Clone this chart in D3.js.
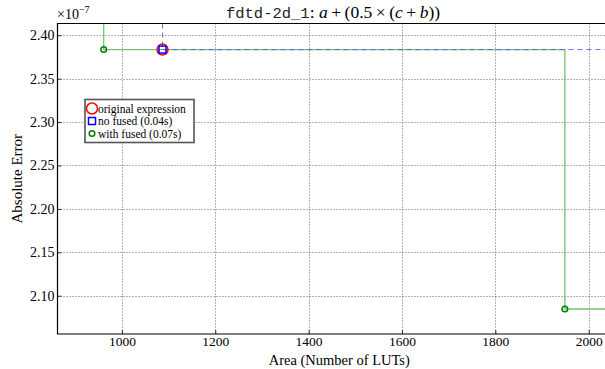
<!DOCTYPE html>
<html>
<head>
<meta charset="utf-8">
<script src="https://cdn.jsdelivr.net/npm/d3@7"></script>
<style>
  body { margin: 0; background: #fff; }
  svg { display: block; }
  text { font-family: "Liberation Serif", "DejaVu Serif", serif; fill: #000; }
</style>
</head>
<body>
<div id="chart"></div>
<script>
// data (y values in units of 1e-7)
var xTicks = [1000, 1200, 1400, 1600, 1800, 2000];
var yTicks = [2.10, 2.15, 2.20, 2.25, 2.30, 2.35, 2.40];

var originalPoint = [{x: 1087, y: 2.3835}];
var noFusedPoints = [{x: 1087, y: 2.3835}];
var withFusedPoints = [{x: 961, y: 2.3835}, {x: 1949, y: 2.0847}];

var legendItems = [
  {label: "original expression", kind: "orig"},
  {label: "no fused (0.04s)", kind: "nofused"},
  {label: "with fused (0.07s)", kind: "fused"}
];

var W = 605, H = 369;
var margin = {left: 57.5, right: 0, top: 23.5, bottom: 35};

var svg = d3.select("#chart").append("svg")
  .attr("width", W).attr("height", H);

var x = d3.scaleLinear().domain([862, 2035]).range([margin.left, W - margin.right]);
var y = d3.scaleLinear().domain([2.0559, 2.4135]).range([H - margin.bottom, margin.top]);

var x0 = x.range()[0], x1 = x.range()[1];
var yTop = y.range()[1], yBot = y.range()[0];

// grid
var grid = svg.append("g");
grid.selectAll("line.vx").data(xTicks).enter().append("line")
  .attr("x1", function(d){ return Math.round(x(d)) + 0.5; })
  .attr("x2", function(d){ return Math.round(x(d)) + 0.5; })
  .attr("y1", yTop).attr("y2", yBot)
  .attr("stroke", "#000").attr("stroke-width", 0.7)
  .attr("stroke-dasharray", "1,2").attr("opacity", 0.85);
grid.selectAll("line.hy").data(yTicks).enter().append("line")
  .attr("y1", function(d){ return Math.round(y(d)) + 0.5; })
  .attr("y2", function(d){ return Math.round(y(d)) + 0.5; })
  .attr("x1", x0).attr("x2", x1)
  .attr("stroke", "#000").attr("stroke-width", 0.7)
  .attr("stroke-dasharray", "1,2").attr("opacity", 0.85);

// step lines (pareto fronts)
function stepPath(pts) {
  var p = d3.path();
  p.moveTo(x(pts[0].x), yTop);
  pts.forEach(function(d, i) {
    p.lineTo(x(d.x), y(d.y));
    var nx = i < pts.length - 1 ? x(pts[i + 1].x) : x1 + 5;
    p.lineTo(nx, y(d.y));
  });
  return p.toString();
}

svg.append("path").attr("d", stepPath(withFusedPoints))
  .attr("fill", "none").attr("stroke", "#5cb85c").attr("stroke-width", 1.3).attr("opacity", 0.85);
svg.append("path").attr("d", stepPath(noFusedPoints))
  .attr("fill", "none").attr("stroke", "#5555ee").attr("stroke-width", 1)
  .attr("stroke-dasharray", "5,4").attr("opacity", 0.85);

// markers
svg.selectAll("circle.orig").data(originalPoint).enter().append("circle")
  .attr("cx", function(d){ return x(d.x); }).attr("cy", function(d){ return y(d.y); })
  .attr("r", 5.5).attr("fill", "none").attr("stroke", "#ff0000").attr("stroke-width", 1.5);
svg.selectAll("rect.nf").data(noFusedPoints).enter().append("rect")
  .attr("x", function(d){ return x(d.x) - 3.5; }).attr("y", function(d){ return y(d.y) - 3.5; })
  .attr("width", 7).attr("height", 7)
  .attr("fill", "none").attr("stroke", "#0000ff").attr("stroke-width", 1.5);
svg.selectAll("circle.wf").data(withFusedPoints).enter().append("circle")
  .attr("cx", function(d){ return x(d.x); }).attr("cy", function(d){ return y(d.y); })
  .attr("r", 2.8).attr("fill", "none").attr("stroke", "#007f00").attr("stroke-width", 1.5);

// frame (left, top, bottom)
svg.append("path")
  .attr("d", "M" + (W + 2) + "," + yTop + "H" + x0 + "V" + yBot + "H" + (W + 2))
  .attr("fill", "none").attr("stroke", "#000").attr("stroke-width", 1.2);

// x axis
var xAxis = svg.append("g").attr("transform", "translate(0," + yBot + ")")
  .call(d3.axisBottom(x).tickValues(xTicks).tickSize(-4).tickPadding(2.5).tickFormat(d3.format("d")));
xAxis.select(".domain").remove();
xAxis.selectAll("text").style("font-family", "Liberation Serif").style("font-size", "13.5px");
xAxis.selectAll("line").attr("stroke-width", 0.8);

// y axis
var yAxis = svg.append("g").attr("transform", "translate(" + x0 + ",0)")
  .call(d3.axisLeft(y).tickValues(yTicks).tickSize(-4).tickPadding(3).tickFormat(d3.format(".2f")));
yAxis.select(".domain").remove();
yAxis.selectAll("text").style("font-family", "Liberation Serif").style("font-size", "14px");
yAxis.selectAll("line").attr("stroke-width", 0.8);

// offset text
var off = svg.append("text").attr("x", 57).attr("y", 19).style("font-size", "14px");
off.append("tspan").text("\u00d710");
off.append("tspan").attr("dy", -6).style("font-size", "10px").text("\u22127");

// axis labels
svg.append("text").attr("x", (x0 + x1) / 2 + 8).attr("y", 365)
  .attr("text-anchor", "middle").style("font-size", "14.5px")
  .text("Area (Number of LUTs)");
svg.append("text").attr("transform", "translate(22," + ((yTop + yBot) / 2) + ") rotate(-90)")
  .attr("text-anchor", "middle").style("font-size", "15px")
  .text("Absolute Error");

// title
var title = svg.append("text").attr("x", 333).attr("y", 18)
  .attr("text-anchor", "middle").style("font-size", "17.5px");
title.append("tspan").style("font-family", "Liberation Mono").style("font-size", "15.5px").attr("fill", "#222").text("fdtd-2d_1");
title.append("tspan").text(": ");
title.append("tspan").style("font-style", "italic").text("a");
title.append("tspan").text("\u2009+\u2009(0.5\u2009\u00d7\u2009(");
title.append("tspan").style("font-style", "italic").text("c");
title.append("tspan").text("\u2009+\u2009");
title.append("tspan").style("font-style", "italic").text("b");
title.append("tspan").text("))");

// legend
var lg = svg.append("g").attr("transform", "translate(85,99.5)");
lg.append("rect").attr("x", 0).attr("y", 0).attr("width", 109).attr("height", 43)
  .attr("fill", "#fff").attr("stroke", "#555").attr("stroke-width", 1.6);
var row = lg.selectAll("g.row").data(legendItems).enter().append("g")
  .attr("transform", function(d, i){ return "translate(0," + (9 + i * 12.5) + ")"; });
row.each(function(d) {
  var g = d3.select(this);
  if (d.kind === "orig") {
    g.append("circle").attr("cx", 7).attr("cy", 0).attr("r", 5.5)
      .attr("fill", "none").attr("stroke", "#ff0000").attr("stroke-width", 1.5);
  } else if (d.kind === "nofused") {
    g.append("rect").attr("x", 3.5).attr("y", -3.5).attr("width", 7).attr("height", 7)
      .attr("fill", "none").attr("stroke", "#0000ff").attr("stroke-width", 1.5);
  } else {
    g.append("circle").attr("cx", 7).attr("cy", 0).attr("r", 2.8)
      .attr("fill", "none").attr("stroke", "#007f00").attr("stroke-width", 1.5);
  }
});
row.append("text").attr("x", 13).attr("y", 4).style("font-size", "11.5px")
  .text(function(d){ return d.label; });
</script>
</body>
</html>
